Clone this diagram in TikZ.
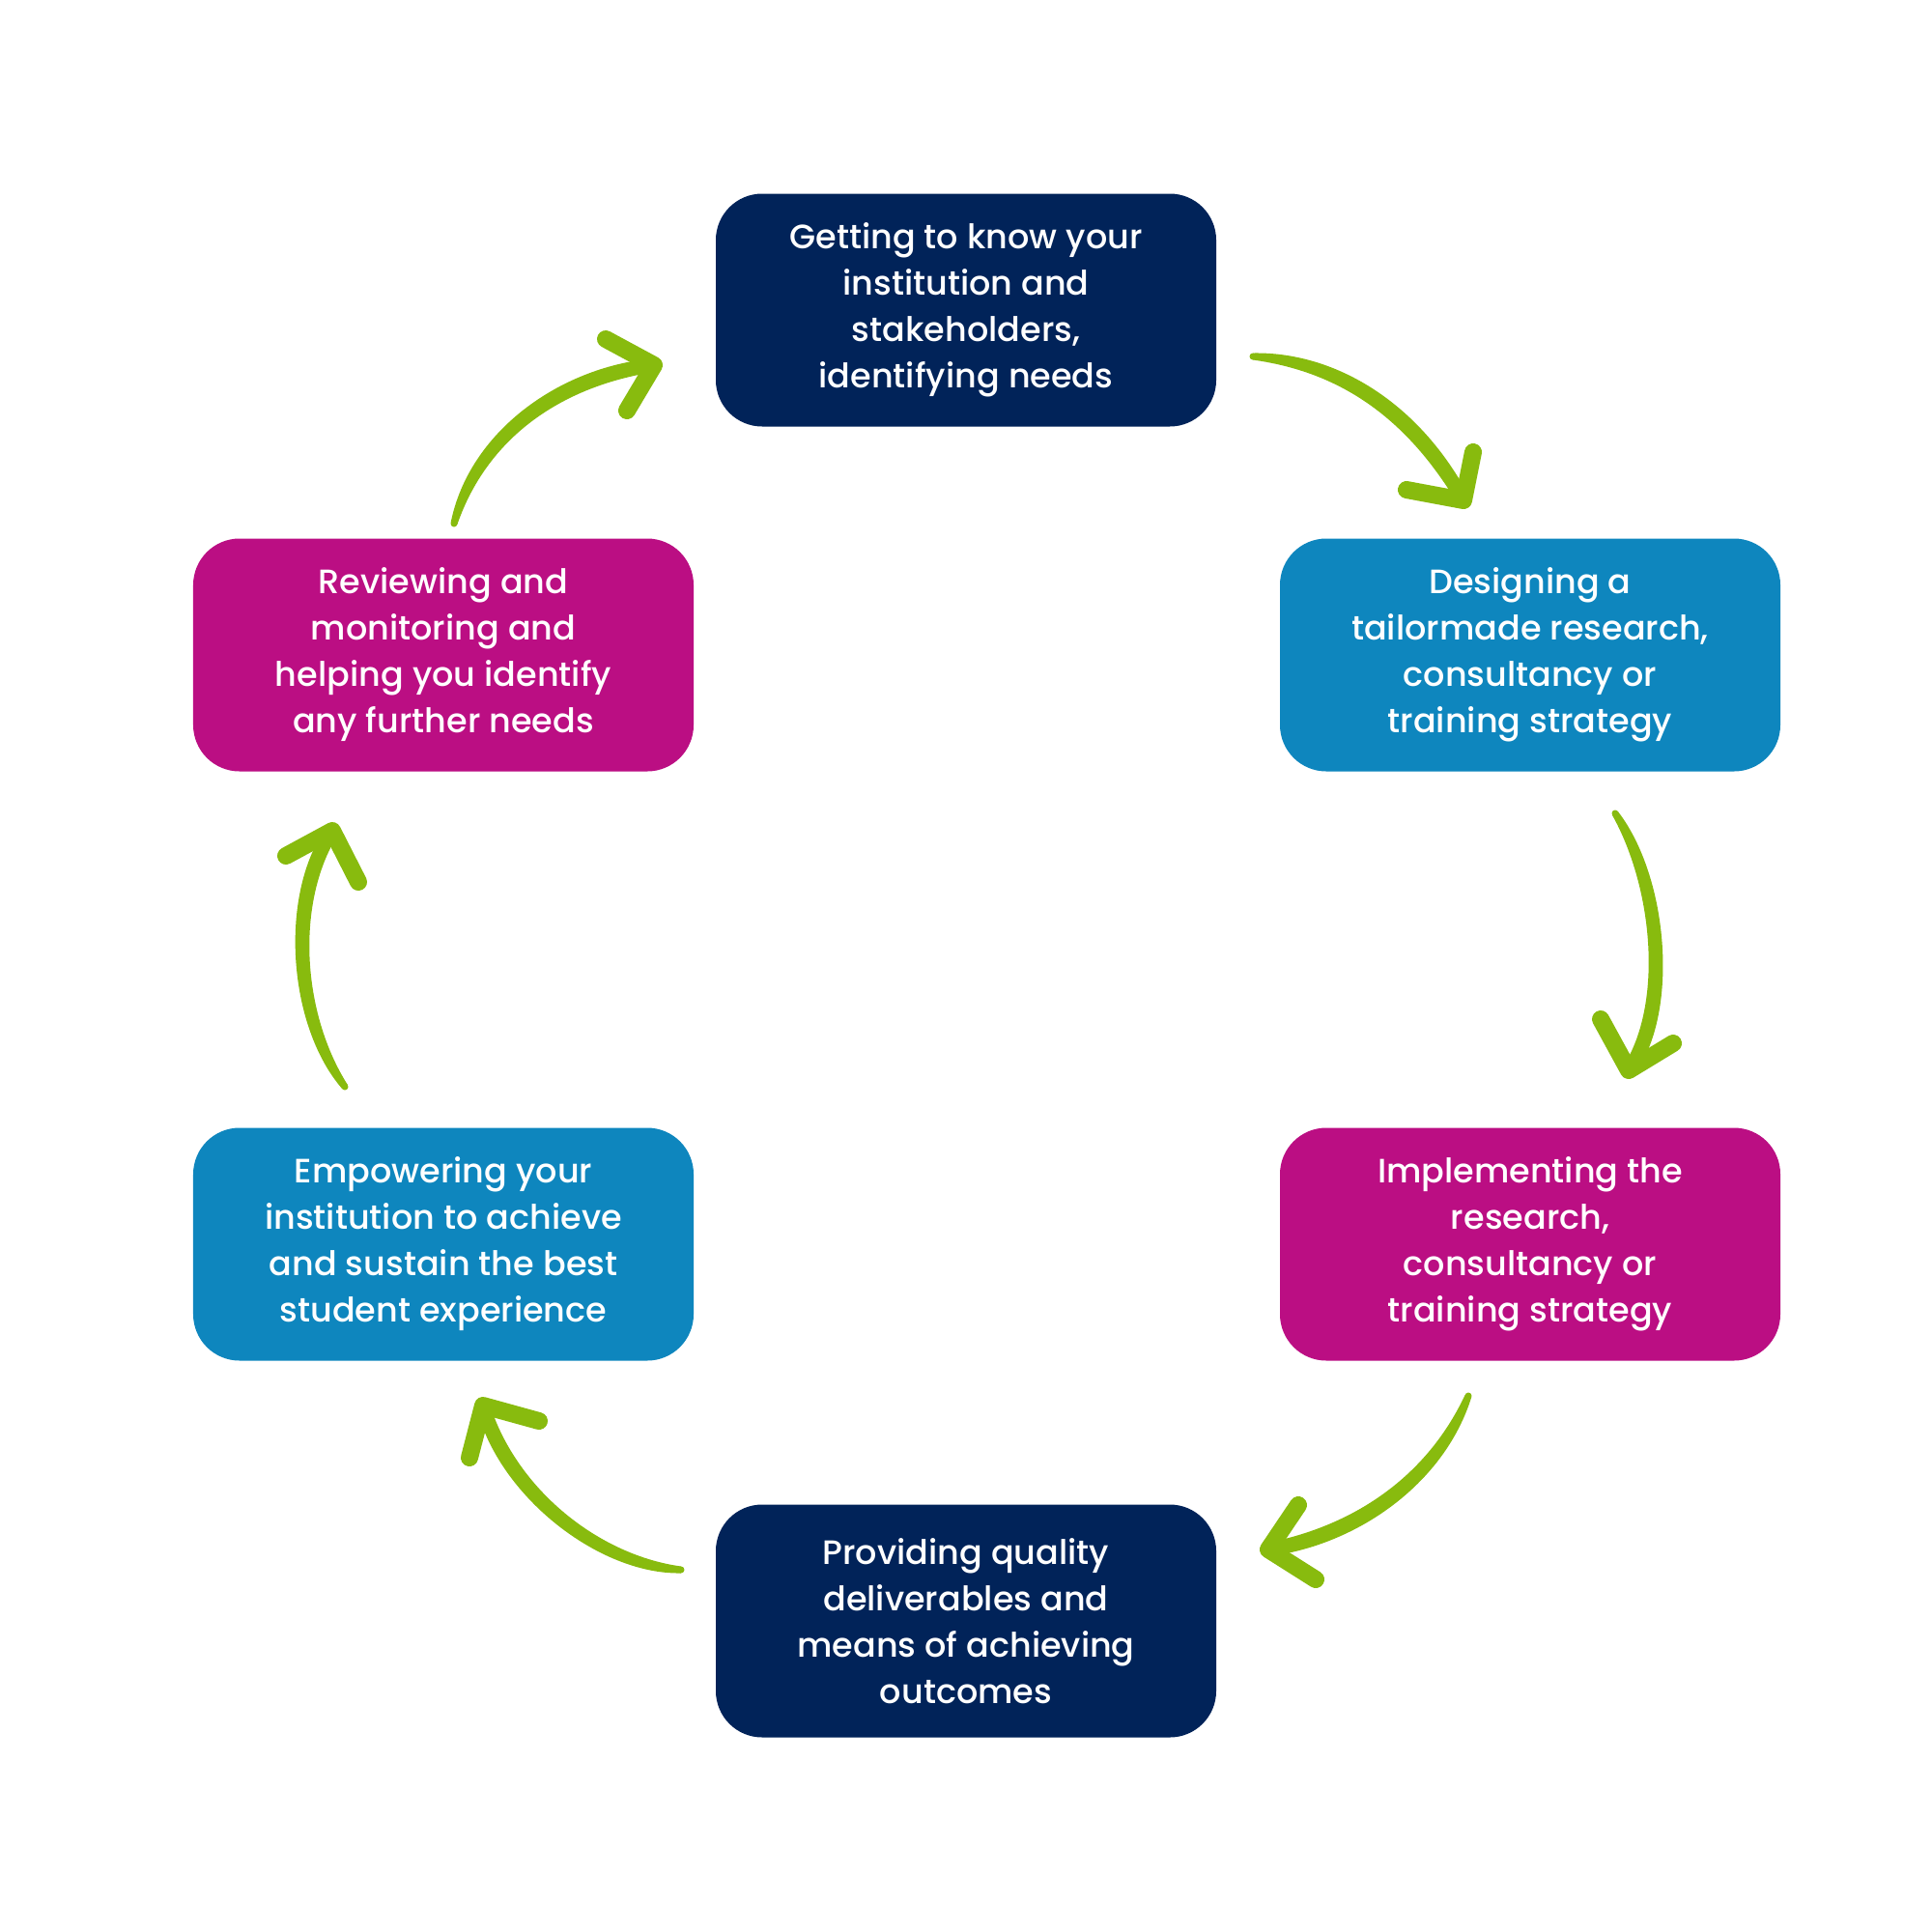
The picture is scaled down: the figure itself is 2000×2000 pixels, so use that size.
\documentclass[tikz,border=0pt]{standalone}
\usepackage{fontspec}
\setmainfont{Poppins Medium}
\usetikzlibrary{calc}
\definecolor{navy}{HTML}{012359}
\definecolor{skyblue}{HTML}{0E86BE}
\definecolor{magent}{HTML}{BB0E83}
\definecolor{arrowgreen}{HTML}{88BB0E}
\newcommand{\myshaft}[4]{%
  \fill[arrowgreen] ($(#1)!3.5bp!90:(#2)$) .. controls ($(#2)!10bp!-90:(#1)$) and ($(#3)!10bp!90:(#4)$) .. ($(#4)!7bp!-90:(#3)$)
    -- ($(#4)!7bp!90:(#3)$) .. controls ($(#3)!10bp!-90:(#4)$) and ($(#2)!10bp!90:(#1)$) .. ($(#1)!3.5bp!-90:(#2)$) -- cycle;
  \fill[arrowgreen] (#1) circle (3.5bp);
}
\begin{document}
\begin{tikzpicture}[x=1bp,y=-1bp,
  stepbox/.style={rectangle, rounded corners=48bp, minimum width=518bp, minimum height=241bp,
    inner sep=0pt, align=center, text=white, font=\fontsize{35bp}{48bp}\selectfont},
  headstroke/.style={draw=arrowgreen, line width=18bp, line cap=round, line join=round}]
\useasboundingbox (0,0) rectangle (2000,2000);
\fill[white] (0,0) rectangle (2000,2000);

\node[stepbox, fill=navy] (t) at (1000,321) {Getting to know your\\institution and\\stakeholders,\\identifying needs};
\node[stepbox, fill=skyblue] (rt) at (1584,678) {Designing a\\tailormade research,\\consultancy or\\training strategy};
\node[stepbox, fill=magent] (rb) at (1584,1288) {Implementing the\\research,\\consultancy or\\training strategy};
\node[stepbox, fill=navy] (b) at (1000,1678) {Providing quality\\deliverables and\\means of achieving\\outcomes};
\node[stepbox, fill=skyblue] (lb) at (459,1288) {Empowering your\\institution to achieve\\and sustain the best\\student experience};
\node[stepbox, fill=magent] (lt) at (459,678) {Reviewing and\\monitoring and\\helping you identify\\any further needs};

% arrow 1: top -> right top
\coordinate (a1s) at (1297,369); \coordinate (a1c) at (1380,374); \coordinate (a1d) at (1460,420); \coordinate (a1e) at (1515,518);
\coordinate (a1p) at (1525,468); \coordinate (a1q) at (1456,507);
\myshaft{a1s}{a1c}{a1d}{a1e}
\draw[headstroke] (a1p) -- (a1e) -- (a1q);

% arrow 2: right top -> right bottom
\coordinate (a2s) at (1672,842); \coordinate (a2c) at (1720,915); \coordinate (a2d) at (1730,1045); \coordinate (a2e) at (1686,1108);
\coordinate (a2p) at (1657,1055); \coordinate (a2q) at (1732,1080);
\myshaft{a2s}{a2c}{a2d}{a2e}
\draw[headstroke] (a2p) -- (a2e) -- (a2q);

% arrow 3: right bottom -> bottom
\coordinate (a3s) at (1520,1445); \coordinate (a3c) at (1485,1535); \coordinate (a3d) at (1400,1590); \coordinate (a3e) at (1313,1604);
\coordinate (a3p) at (1344,1558); \coordinate (a3q) at (1362,1635);
\myshaft{a3s}{a3c}{a3d}{a3e}
\draw[headstroke] (a3p) -- (a3e) -- (a3q);

% arrow 4: bottom -> left bottom
\coordinate (a4s) at (705,1625); \coordinate (a4c) at (620,1620); \coordinate (a4d) at (525,1545); \coordinate (a4e) at (500,1455);
\coordinate (a4p) at (558,1471); \coordinate (a4q) at (486,1509);
\myshaft{a4s}{a4c}{a4d}{a4e}
\draw[headstroke] (a4p) -- (a4e) -- (a4q);

% arrow 5: left bottom -> left top
\coordinate (a5s) at (357,1125); \coordinate (a5c) at (305,1055); \coordinate (a5d) at (297,930); \coordinate (a5e) at (344,860);
\coordinate (a5p) at (296,886); \coordinate (a5q) at (371,913);
\myshaft{a5s}{a5c}{a5d}{a5e}
\draw[headstroke] (a5p) -- (a5e) -- (a5q);

% arrow 6: left top -> top
\coordinate (a6s) at (470,542); \coordinate (a6c) at (495,450); \coordinate (a6d) at (580,390); \coordinate (a6e) at (677,378);
\coordinate (a6p) at (627,351); \coordinate (a6q) at (649,425);
\myshaft{a6s}{a6c}{a6d}{a6e}
\draw[headstroke] (a6p) -- (a6e) -- (a6q);
\end{tikzpicture}
\end{document}
